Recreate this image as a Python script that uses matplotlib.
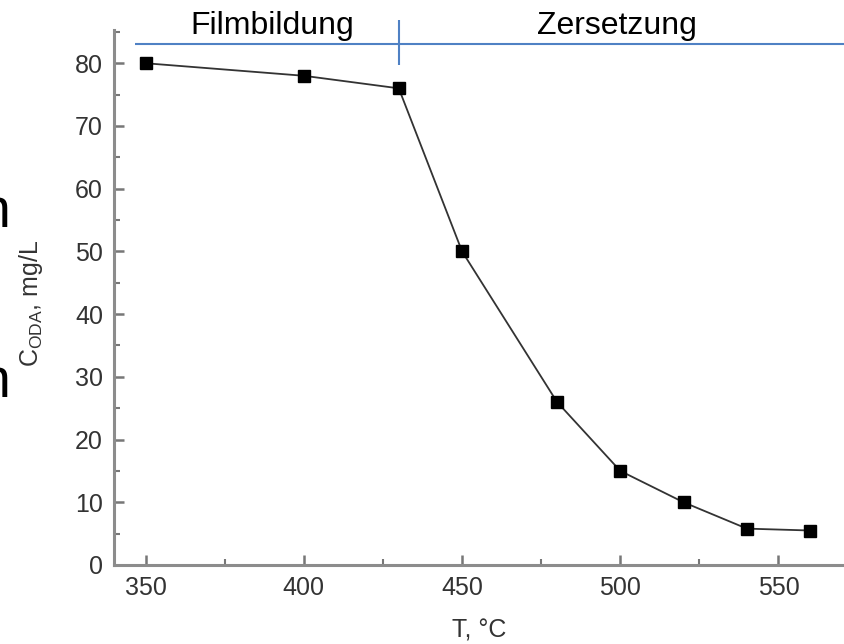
import matplotlib
matplotlib.use("Agg")
import matplotlib.pyplot as plt
from matplotlib.ticker import MultipleLocator

# Data
temperature = [350, 400, 430, 450, 480, 500, 520, 540, 560]
concentration = [80, 78, 76, 50, 26, 15, 10, 5.8, 5.5]
x_ticks = [350, 400, 450, 500, 550]
y_ticks = [0, 10, 20, 30, 40, 50, 60, 70, 80]
phase_labels = ["Filmbildung", "Zersetzung"]
phase_boundary = 430
phase_label_x = [390, 499]

plt.rcParams['font.family'] = ['Liberation Sans', 'DejaVu Sans']
plt.rcParams['mathtext.fontset'] = 'custom'
plt.rcParams['mathtext.rm'] = 'Liberation Sans'
plt.rcParams['mathtext.it'] = 'Liberation Sans'

W, H = 844, 644
fig = plt.figure(figsize=(W / 100, H / 100), dpi=100)
ax = fig.add_axes([114 / W, 1 - 565 / H, 1 - 114 / W, (565 - 30) / H])

ax.plot(temperature, concentration, color='#333333', lw=1.3,
        marker='s', markersize=8.5, markerfacecolor='black',
        markeredgecolor='black', zorder=3)

ax.set_xlim(340, 570.7)
ax.set_ylim(0, 85.3)
ax.set_xticks(x_ticks)
ax.set_yticks(y_ticks)
ax.xaxis.set_minor_locator(MultipleLocator(25))
ax.yaxis.set_minor_locator(MultipleLocator(5))

for s in ['top', 'right']:
    ax.spines[s].set_visible(False)
for s in ['left', 'bottom']:
    ax.spines[s].set_color('#8c8c8c')
    ax.spines[s].set_linewidth(2.2)

ax.tick_params(which='major', direction='in', length=7, width=1.8,
               color='#777777', labelsize=18, labelcolor='#333333', pad=8)
ax.tick_params(which='minor', direction='in', length=4, width=1.5,
               color='#777777')

ax.set_xlabel('T, °C', fontsize=18, color='#333333')
ax.xaxis.set_label_coords(0.5, -0.1)
ax.set_ylabel(r'C$_{\rm ODA}$, mg/L', fontsize=18, color='#333333')
ax.yaxis.set_label_coords(-0.094, 0.49)

# Phase annotations
blue = '#4f81c4'
ax.plot([346.5, 575], [83.1, 83.1], color=blue, lw=1.5, clip_on=False,
        solid_capstyle='butt')
ax.plot([phase_boundary, phase_boundary], [79.7, 86.9], color=blue, lw=1.5,
        clip_on=False, solid_capstyle='butt')
for lbl, xp in zip(phase_labels, phase_label_x):
    ax.text(xp, 84.6, lbl, ha='center', va='baseline', fontsize=23,
            color='black', clip_on=False)

# Cut-off text fragments at the left edge
fig.text(10 / W, 1 - 227 / H, 'n', ha='right', va='baseline', fontsize=40,
         color='black')
fig.text(10 / W, 1 - 397 / H, 'n', ha='right', va='baseline', fontsize=40,
         color='black')

fig.savefig('out.png', dpi=100)
